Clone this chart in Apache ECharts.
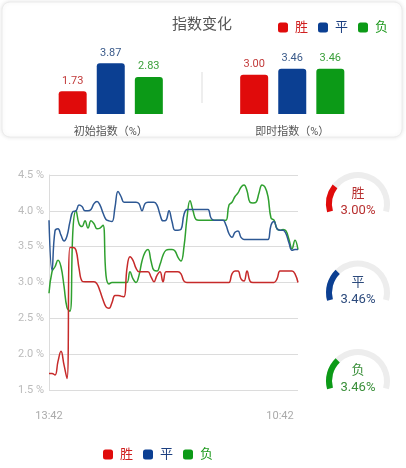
<!DOCTYPE html>
<html>
<head>
<meta charset="utf-8">
<script src="https://cdn.jsdelivr.net/npm/echarts@6/dist/echarts.min.js"></script>
<style>
html,body{margin:0;padding:0;background:#fff;}
#c{width:406px;height:468px;}
</style>
</head>
<body>
<div id="c"></div>
<script>
// ---- data ----
const seriesNames = ['胜', '平', '负'];
const barCategories = ['初始指数（%）', '即时指数（%）'];
const winBar = [1.73, 3.00];
const drawBar = [3.87, 3.46];
const loseBar = [2.83, 3.46];
const timeLabels = ['13:42', '10:42'];
const yTicks = [1.5, 2.0, 2.5, 3.0, 3.5, 4.0, 4.5];
const winLine = [1.73,1.73,1.71,1.9,2.04,1.85,1.66,3.49,3.49,3.45,3.2,3.02,3.01,3.01,3.01,3.01,2.98,2.88,2.76,2.66,
  2.64,2.72,2.82,2.82,2.81,2.80,3.2,3.36,3.31,3.2,3.15,3.15,3.15,3.15,3.08,3.01,3.1,3.15,3.01,3.15,
  3.15,3.15,3.15,3.15,3.12,3.02,3.0,3.0,3.0,3.0,3.0,3.0,3.0,3.0,3.0,3.0,3.0,3.0,3.0,3.0,
  3.0,3.12,3.16,3.16,3.05,3.02,3.16,3.02,3.0,3.0,3.0,3.0,3.0,3.0,3.0,3.0,3.05,3.16,3.16,3.16,
  3.16,3.16,3.12,3.0];
const drawLine = [3.87,3.17,3.72,3.75,3.66,3.58,3.65,3.85,3.99,4.0,4.08,4.06,4.0,4.0,4.02,4.1,4.13,4.08,3.97,3.88,
  3.86,3.85,4.05,4.27,4.2,4.12,4.12,4.12,4.12,4.12,4.1,4.0,4.1,4.12,4.12,4.12,4.08,3.95,3.86,3.87,
  4.0,3.85,3.73,3.73,3.74,3.95,4.02,4.02,4.02,4.02,4.02,4.02,4.02,4.02,3.9,3.87,3.87,3.87,3.87,3.8,
  3.68,3.63,3.7,3.72,3.63,3.6,3.6,3.6,3.6,3.6,3.6,3.6,3.6,3.6,3.8,3.85,3.75,3.73,3.73,3.68,
  3.55,3.45,3.46,3.46];
const loseLine = [2.85,3.15,3.22,3.31,3.22,2.95,2.65,2.6,3.75,4.0,3.82,3.78,3.86,3.76,3.86,3.82,3.75,3.76,3.8,3.1,
  2.98,3.0,3.0,3.0,3.0,3.0,3.0,3.15,3.05,3.0,3.1,3.3,3.42,3.46,3.3,3.17,3.16,3.25,3.38,3.45,
  3.46,3.46,3.44,3.35,3.3,3.5,3.9,4.14,4.0,3.88,3.87,3.87,3.87,3.87,3.87,3.87,3.87,3.87,3.87,3.87,
  4.08,4.12,4.2,4.25,4.33,4.36,4.28,4.12,4.11,4.12,4.25,4.36,4.33,4.2,3.9,3.87,3.75,3.73,3.74,3.72,
  3.6,3.47,3.59,3.46];
const gaugeValues = [3.00, 3.46, 3.46];

// ---- styles ----
const FONT = 'Roboto, "Noto Sans CJK SC", sans-serif';
const barColors = ['#e00b0b', '#0b3f92', '#0c9a17'];
const barLabelColors = ['#c23a3a', '#3a5a8a', '#3a9f3a'];
const lineColors = ['#c62a2a', '#2d5894', '#2fa02f'];
const gaugeTextColors = ['#b83030', '#2c4a7c', '#3a8f3a'];
const legendTextColors = ['#d02020', '#1c3f80', '#1f9a1f'];

const xIdx = loseLine.map((_, i) => String(i));
const lastLabelIdx = 77;

function legendData() {
  return seriesNames.map((n, i) => ({
    name: n,
    itemStyle: { color: barColors[i] },
    textStyle: { color: legendTextColors[i] }
  }));
}

const barSeries = [winBar, drawBar, loseBar].map((d, i) => ({
  type: 'bar', name: seriesNames[i], xAxisIndex: 0, yAxisIndex: 0,
  data: d, barWidth: 28, barGap: '36%',
  itemStyle: { color: barColors[i], borderRadius: [3, 3, 0, 0] },
  label: { show: true, position: 'top', distance: 5, fontSize: 11, color: barLabelColors[i], fontFamily: FONT,
    formatter: p => p.value.toFixed(2) },
  emphasis: { disabled: true }
}));

const lineSeries = [winLine, drawLine, loseLine].map((d, i) => ({
  type: 'line', name: seriesNames[i], xAxisIndex: 1, yAxisIndex: 1,
  data: d, smooth: 0.45, symbol: 'none',
  lineStyle: { color: lineColors[i], width: 1.5 },
  itemStyle: { color: lineColors[i] },
  z: 3 - i
}));

const gaugeCenters = [[358, 204], [358, 292.5], [358, 381]];
const gaugeSeries = gaugeValues.map((v, i) => ({
  type: 'gauge', center: gaugeCenters[i], radius: 32,
  startAngle: 195, endAngle: -15, min: 0, max: 12,
  progress: { show: true, width: 6, itemStyle: { color: barColors[i] } },
  axisLine: { lineStyle: { width: 6, color: [[1, '#ededed']] } },
  pointer: { show: false }, anchor: { show: false },
  axisTick: { show: false }, splitLine: { show: false }, axisLabel: { show: false },
  title: { offsetCenter: [0, -10], fontSize: 13, color: gaugeTextColors[i], fontFamily: FONT },
  detail: { offsetCenter: [0, 7], fontSize: 13, fontWeight: 'normal', color: gaugeTextColors[i], fontFamily: FONT,
    formatter: val => val.toFixed(2) + '%' },
  data: [{ value: v, name: seriesNames[i] }]
}));

const chart = echarts.init(document.getElementById('c'), null, { renderer: 'canvas' });
chart.setOption({
  animation: false,
  backgroundColor: '#fff',
  textStyle: { fontFamily: FONT },
  graphic: [
    { type: 'rect', z: -10, shape: { x: 2, y: 2, width: 400, height: 135, r: 8 },
      style: { fill: '#fff', stroke: '#ececec', lineWidth: 1, shadowBlur: 4, shadowColor: 'rgba(0,0,0,0.10)' } },
    { type: 'line', z: -5, shape: { x1: 202, y1: 72, x2: 202, y2: 103 },
      style: { stroke: '#dddddd', lineWidth: 1 } }
  ],
  title: {
    text: '指数变化', left: 172, top: 18, padding: 0,
    textStyle: { fontSize: 15, fontWeight: 'normal', color: '#555', fontFamily: FONT }
  },
  legend: [
    { left: 278, top: 21, padding: 0, itemWidth: 10, itemHeight: 10, itemGap: 10, icon: 'roundRect',
      textStyle: { fontSize: 13, fontFamily: FONT, padding: [0, 0, 0, 2] },
      data: legendData(), selectedMode: false },
    { left: 103, top: 448, padding: 0, itemWidth: 10, itemHeight: 10, itemGap: 10, icon: 'roundRect',
      textStyle: { fontSize: 13, fontFamily: FONT, padding: [0, 0, 0, 2] },
      data: legendData(), selectedMode: false }
  ],
  grid: [
    { left: 20, right: 23, top: 61.6, bottom: 354 },
    { left: 49, right: 108, top: 175, bottom: 78 }
  ],
  xAxis: [
    { type: 'category', gridIndex: 0, data: barCategories,
      axisLine: { show: false }, axisTick: { show: false },
      axisLabel: { margin: 13, fontSize: 11, color: '#555', fontFamily: FONT } },
    { type: 'category', gridIndex: 1, data: xIdx, boundaryGap: false,
      axisLine: { show: false }, axisTick: { show: false },
      axisLabel: { interval: 0, margin: 21, fontSize: 11, color: '#aaa', fontFamily: FONT,
        formatter: (v, idx) => idx === 0 ? timeLabels[0] : (idx === lastLabelIdx ? timeLabels[1] : '') } }
  ],
  yAxis: [
    { type: 'value', gridIndex: 0, min: 0, max: 4, show: false },
    { type: 'value', gridIndex: 1, min: yTicks[0], max: yTicks[yTicks.length - 1], interval: 0.5,
      axisLine: { show: true, lineStyle: { color: '#dcdcdc' } }, axisTick: { show: false },
      splitLine: { lineStyle: { color: '#dcdcdc' } },
      axisLabel: { margin: 5, fontSize: 11, color: '#bbb', fontFamily: FONT,
        formatter: v => v.toFixed(1) + ' %' } }
  ],
  series: [...barSeries, ...lineSeries, ...gaugeSeries]
});
</script>
</body>
</html>
